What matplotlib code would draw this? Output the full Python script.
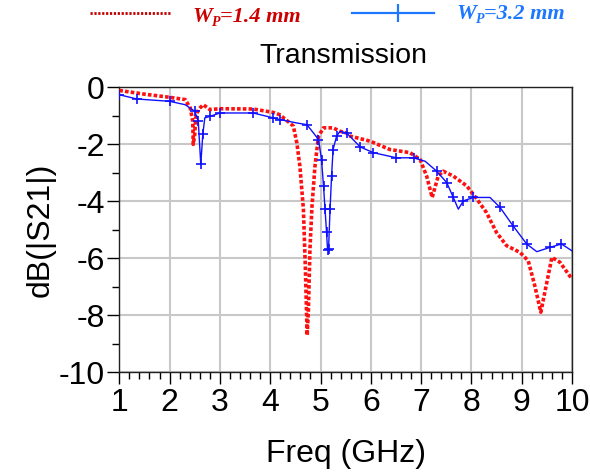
import matplotlib
matplotlib.use("Agg")
import matplotlib.pyplot as plt
from matplotlib.ticker import MultipleLocator
from matplotlib.lines import Line2D

plt.rcParams['font.family'] = ['Liberation Sans', 'DejaVu Sans']

# ---- data ----
freq_red = [1.0, 1.5, 2.0, 2.31, 2.41, 2.46, 2.47, 2.50, 2.52, 2.57, 2.67, 2.80, 3.0,
            3.66, 4.06, 4.19, 4.39, 4.46, 4.53, 4.59, 4.66, 4.70, 4.735, 4.76, 4.79,
            4.83, 4.89, 4.96, 5.06, 5.25, 5.39, 5.52, 5.59, 5.99, 6.38, 6.78, 6.98,
            7.11, 7.22, 7.34, 7.44, 7.64, 7.91, 8.11, 8.30, 8.50, 8.70, 8.97, 9.13,
            9.26, 9.38, 9.46, 9.60, 9.76, 10.0]
db_red = [-0.12, -0.25, -0.36, -0.44, -0.73, -1.2, -2.01, -1.66, -1.08, -0.79, -0.62, -0.79, -0.76,
          -0.77, -0.89, -0.97, -1.26, -1.37, -1.96, -2.77, -4.28, -6.4, -8.7, -7.8, -5.7,
          -4.2, -2.77, -1.72, -1.43, -1.43, -1.55, -1.61, -1.72, -1.90, -2.19, -2.30, -2.54,
          -3.12, -3.87, -3.12, -2.95, -3.12, -3.47, -3.93, -4.40, -5.10, -5.56, -5.80, -6.09,
          -6.96, -7.89, -7.19, -5.97, -6.14, -6.73]

freq_blue = [1.0, 1.35, 2.0, 2.31, 2.50, 2.57, 2.62, 2.66, 2.70, 2.80, 3.0, 3.66, 4.06,
             4.19, 4.53, 4.73, 4.86, 4.96, 5.02, 5.06, 5.09, 5.12, 5.14, 5.16, 5.19,
             5.22, 5.25, 5.32, 5.39, 5.52, 5.79, 6.05, 6.51, 6.85, 7.08, 7.31, 7.51,
             7.64, 7.74, 7.84, 8.04, 8.37, 8.57, 8.83, 9.10, 9.30, 9.56, 9.79, 10.0]
db_blue = [-0.27, -0.42, -0.50, -0.62, -0.85, -1.2, -2.71, -1.66, -1.08, -1.03, -0.91, -0.91, -1.08,
           -1.14, -1.26, -1.32, -1.61, -1.84, -2.54, -3.47, -4.28, -5.09, -5.7, -5.68, -4.28,
           -3.12, -2.19, -1.72, -1.55, -1.61, -2.10, -2.30, -2.48, -2.48, -2.60, -2.95, -3.35,
           -3.87, -4.28, -3.99, -3.87, -3.87, -4.22, -4.87, -5.50, -5.77, -5.62, -5.50, -5.74]

legend_main = ['W', 'W']
legend_sub = ['P', 'P']
legend_rest = ['=1.4 mm', '=3.2 mm']
xticks = [1, 2, 3, 4, 5, 6, 7, 8, 9, 10]
yticks = [0, -2, -4, -6, -8, -10]

RED_TXT = '#CC0000'
BLUE_TXT = '#1E78FF'

fig = plt.figure(figsize=(5.9, 4.75), dpi=100)
ax = fig.add_axes([0.2022, 0.2160, 0.7673, 0.6008])

ax.plot(freq_red, db_red, color='#FF1010', lw=2.6, linestyle=(0, (1.0, 0.6)), zorder=3)
ax.plot(freq_blue, db_blue, color='#1010FF', lw=1.0, marker='+', markersize=7,
        markeredgewidth=1.2, markevery=0.035, zorder=4)

ax.set_xlim(1, 10)
ax.set_ylim(-10, 0)
ax.set_xticks(xticks)
ax.set_yticks(yticks)
ax.set_yticklabels([str(v) for v in yticks])
ax.xaxis.set_minor_locator(MultipleLocator(0.2))
ax.yaxis.set_minor_locator(MultipleLocator(1))
ax.tick_params(axis='both', which='major', labelsize=23, length=8.5, width=1, direction='out', pad=2)
ax.tick_params(axis='x', which='major', pad=3)
ax.tick_params(axis='both', which='minor', length=5, width=1, direction='out')
ax.grid(True, which='major', color='#C8C8C8', lw=1.5)
ax.set_axisbelow(True)
for s in ax.spines.values():
    s.set_linewidth(1.0)
    s.set_color('#222222')

ax.set_xlabel('Freq (GHz)', fontsize=23, labelpad=15)
ax.set_ylabel('dB(|S21|)', fontsize=23, labelpad=2)
fig.text(343/590, 1-63/475, 'Transmission', fontsize=20.5, ha='center', va='baseline')

# legend drawn above the plot
fig.add_artist(Line2D([90/590, 170/590], [1-13.3/475, 1-13.3/475], color='#C00000', lw=2,
                      linestyle=(0, (0.8, 0.6)), transform=fig.transFigure))
fig.add_artist(Line2D([352/590, 434/590], [1-12.7/475, 1-12.7/475], color=BLUE_TXT, lw=1.6,
                      transform=fig.transFigure))
fig.add_artist(Line2D([398/590], [1-12.7/475], color=BLUE_TXT, marker='|', markersize=13,
                      markeredgewidth=1.6, transform=fig.transFigure))

fig.canvas.draw()
renderer = fig.canvas.get_renderer()


def legend_text(x0, base, main, sub, rest, color):
    kw = dict(color=color, fontweight='bold', fontstyle='italic',
              family='Liberation Serif', va='baseline', ha='left')
    t1 = fig.text(x0 / 590, 1 - base / 475, main, fontsize=16, **kw)
    bb = t1.get_window_extent(renderer)
    t2 = fig.text(bb.x1 / 590, 1 - (base + 4.3) / 475, sub, fontsize=10, **kw)
    bb2 = t2.get_window_extent(renderer)
    fig.text(bb2.x1 / 590, 1 - base / 475, rest, fontsize=16, **kw)


legend_text(192, 21.5, legend_main[0], legend_sub[0], legend_rest[0], RED_TXT)
legend_text(456, 19.0, legend_main[1], legend_sub[1], legend_rest[1], BLUE_TXT)

fig.savefig('out.png', dpi=100)
